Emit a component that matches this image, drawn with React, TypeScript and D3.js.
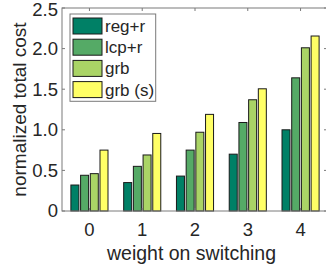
import * as d3 from 'd3';

const categories = [0, 1, 2, 3, 4];
const seriesNames = ['reg+r', 'lcp+r', 'grb', 'grb (s)'];
const seriesColors = ['#008066', '#55aa66', '#aad466', '#ffff66'];
const regR = [0.32, 0.35, 0.43, 0.7, 1.0];
const lcpR = [0.44, 0.55, 0.75, 1.09, 1.64];
const grb = [0.46, 0.69, 0.97, 1.37, 2.01];
const grbS = [0.75, 0.955, 1.19, 1.505, 2.155];
const yTicks = [0, 0.5, 1, 1.5, 2, 2.5];
const yTickLabels = ['0', '0.5', '1.0', '1.5', '2.0', '2.5'];

const W = 326;
const H = 272;
const font = '"Liberation Sans", Arial, Helvetica, sans-serif';
const textColor = '#262626';
const axisColor = '#7a7a7a';

export default function App() {
  const margin = { left: 62, top: 8, right: 328, bottom: 211 };
  const x = d3.scaleLinear().domain([-0.52, 4.52]).range([margin.left, margin.right]);
  const y = d3.scaleLinear().domain([0, 2.5]).range([margin.bottom, margin.top]);
  const inner = d3.scaleBand<string>().domain(seriesNames).range([-18.55, 18.55]).paddingInner(0.175);

  const values = [regR, lcpR, grb, grbS];
  const tickLen = 3;

  return (
    <svg width={W} height={H} style={{ position: 'absolute', left: 0, top: 0 }} fontFamily={font}>
      <rect x={0} y={0} width={W} height={H} fill="#fff" />
      {/* bars */}
      {values.map((vals, si) =>
        vals.map((v, ci) => (
          <rect
            key={`${si}-${ci}`}
            x={x(categories[ci]) + (inner(seriesNames[si]) as number)}
            y={y(v)}
            width={inner.bandwidth()}
            height={y(0) - y(v)}
            fill={seriesColors[si]}
            stroke="#1a1a1a"
            strokeWidth={1}
          />
        ))
      )}
      {/* axes box */}
      <rect
        x={margin.left}
        y={margin.top}
        width={margin.right - margin.left}
        height={margin.bottom - margin.top}
        fill="none"
        stroke={axisColor}
        strokeWidth={1}
      />
      {/* y ticks */}
      {yTicks.map((t, i) => (
        <g key={`y${i}`}>
          <line x1={margin.left} x2={margin.left + tickLen} y1={y(t)} y2={y(t)} stroke={axisColor} />
          <line x1={margin.right - tickLen - 1} x2={margin.right} y1={y(t)} y2={y(t)} stroke={axisColor} />
          <text x={58} y={Math.max(y(t), 9.5)} dy="0.35em" textAnchor="end" fontSize={18.5} fill={textColor}>
            {yTickLabels[i]}
          </text>
        </g>
      ))}
      {/* x ticks */}
      {categories.map((c) => (
        <g key={`x${c}`}>
          <line x1={x(c)} x2={x(c)} y1={margin.top} y2={margin.top + tickLen} stroke={axisColor} />
          <line x1={x(c)} x2={x(c)} y1={margin.bottom} y2={margin.bottom - tickLen} stroke={axisColor} />
          <text x={x(c)} y={236} textAnchor="middle" fontSize={18.5} fill={textColor}>
            {c}
          </text>
        </g>
      ))}
      <text x={191.5} y={260} textAnchor="middle" fontSize={19.5} fill={textColor}>
        weight on switching
      </text>
      <text
        transform={`translate(26,${(margin.top + margin.bottom) / 2}) rotate(-90)`}
        textAnchor="middle"
        fontSize={19}
        fill={textColor}
      >
        normalized total cost
      </text>
      {/* legend */}
      <g>
        <rect x={70} y={14} width={85.7} height={87.3} fill="#fff" stroke={axisColor} strokeWidth={1} />
        {seriesNames.map((s, i) => (
          <g key={s} transform={`translate(0,${18 + i * 21.2})`}>
            <rect x={73} y={0} width={29} height={16} fill={seriesColors[i]} stroke="#1a1a1a" strokeWidth={1} />
            <text x={105} y={14} fontSize={17} fill={textColor}>
              {s}
            </text>
          </g>
        ))}
      </g>
    </svg>
  );
}
